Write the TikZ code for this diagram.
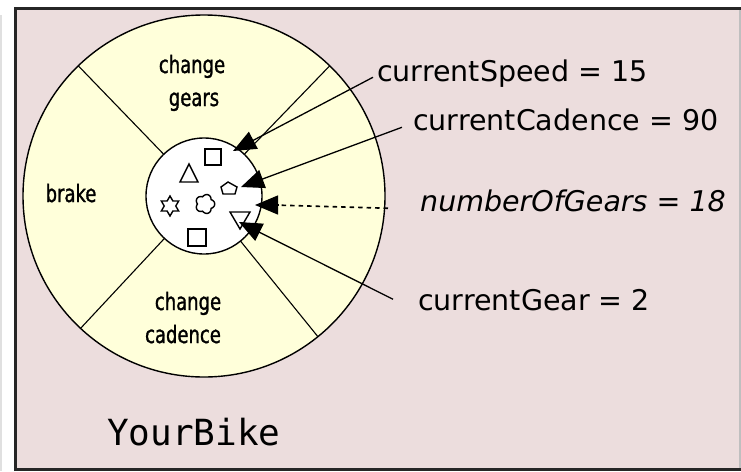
\documentclass[tikz,border=0pt]{standalone}
\usepackage{fontspec}
\setmainfont{DejaVu Sans}
\newfontfamily\lblfont{DejaVu Sans}
\newfontfamily\condfont[FakeStretch=0.75,FakeBold=1.2]{DejaVu Sans}
\newfontfamily\bikemono{DejaVu Sans Mono}
\usetikzlibrary{arrows.meta,shapes.geometric}
\definecolor{bgpink}{RGB}{236,221,221}
\definecolor{wheelyellow}{RGB}{255,255,218}
\begin{document}
\begin{tikzpicture}[x=1pt,y=-1pt,
  lbl/.style={font=\lblfont\fontsize{28.5}{30}\selectfont, anchor=base west, inner sep=0pt},
  seclbl/.style={font=\condfont\fontsize{24}{26}\selectfont, anchor=base, inner sep=0pt},
  ptr/.style={line width=1.3pt, -{Triangle[length=23pt,width=19pt]}},
  dashln/.style={line width=1.6pt, dash pattern=on 4.5pt off 4pt},
  shp/.style={line width=1.4pt, black},
  spoke/.style={line width=1.1pt, black}]
\useasboundingbox (0,0) rectangle (741,471);
% background and frame
\fill[white] (0,0) rectangle (741,471);
\draw[black!12, line width=2pt] (1,15) -- (1,471);
\fill[bgpink] (14,7) rectangle (745,471);
\draw[black!25, line width=2pt] (740,8) -- (740,468);
\draw[black!85, line width=2.6pt] (15.5,471) -- (15.5,8.5) -- (745,8.5);
\draw[black!85, line width=3pt] (14,469.5) -- (745,469.5);
% wheel
\coordinate (C) at (204,196);
\fill[wheelyellow] (C) circle[radius=181pt];
\draw[black, line width=1.4pt] (C) circle[radius=181pt];
\begin{scope}[shift={(204,196)}]
  \foreach \a in {-46,-134,133,51} {\draw[spoke] (\a:58) -- (\a:181);}
\end{scope}
\fill[white] (C) circle[radius=58pt];
\draw[black, line width=1.4pt] (C) circle[radius=58pt];
% sector labels
\node[seclbl] (chg1) at (192,73) {change};
\node[seclbl] (gears) at (194,106) {gears};
\node[seclbl] (brake) at (71,202) {brake};
\node[seclbl] (chg2) at (188,310) {change};
\node[seclbl] (cad) at (183,343) {cadence};
% shapes inside the core
\draw[shp] (205,149) rectangle (221,165);
\draw[shp] (180,182) -- (198,182) -- (189,164) -- cycle;
\node[star, star points=6, star point ratio=1.732, minimum size=20pt, inner sep=0pt, draw, shp] (hex) at (170,206) {};
\draw[shp, shift={(205,204)}] plot[domain=0:360, samples=150, smooth] (\x:{7.5+2.2*abs(cos(2.5*\x))}) -- cycle;
\draw[shp] (228,182) -- (221,187) -- (223,194) -- (235,194) -- (237,187) -- cycle;
\draw[shp] (230,212) -- (250,212) -- (240,229) -- cycle;
\draw[shp] (188,229) rectangle (206,246);
% arrow targets
\coordinate (tSpeed) at (233,151);
\coordinate (tCad) at (241,187);
\coordinate (tNum) at (255,205);
\coordinate (tGear) at (239,222);
% labels
\node[lbl] (lSpeed) at (377,81) {currentSpeed = 15};
\node[lbl] (lCad) at (413,130) {currentCadence = 90};
\node[lbl, font=\lblfont\itshape\fontsize{28.5}{30}\selectfont] (lNum) at (420,211) {numberOfGears = 18};
\node[lbl] (lGear) at (418,310) {currentGear = 2};
\node[font=\bikemono\fontsize{36}{38}\selectfont, anchor=base west, inner sep=0pt] (bike) at (107,445) {YourBike};
% connectors
\draw[ptr] ([xshift=-4pt,yshift=1pt]lSpeed.mid west) -- (tSpeed);
\draw[ptr] ([xshift=-11pt]lCad.mid west) -- (tCad);
\draw[dashln] ([xshift=-32pt]lNum.mid west) -- ([xshift=18pt]tNum);
\draw[ptr] ([xshift=24pt]tNum) -- (tNum);
\draw[ptr] ([xshift=-25pt,yshift=8pt]lGear.mid west) -- (tGear);
\end{tikzpicture}
\end{document}
